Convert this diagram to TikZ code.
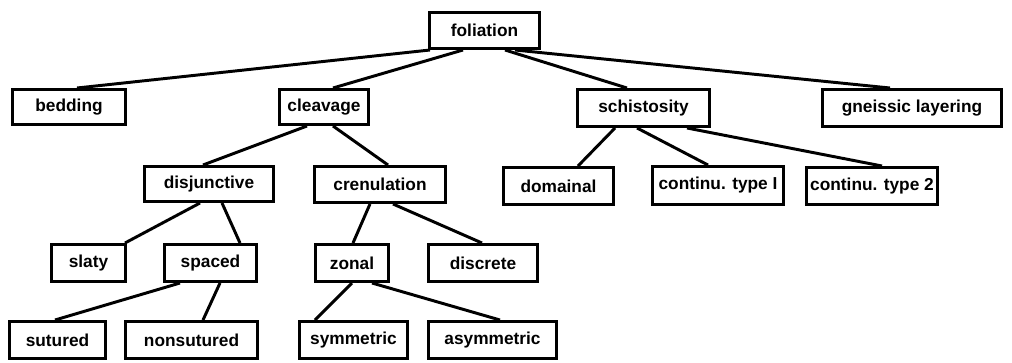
\documentclass[tikz,border=0pt]{standalone}
\usepackage{fontspec}
\setmainfont{Liberation Sans}
\usetikzlibrary{calc}
\tikzset{
  box/.style={draw=black, line width=1.8pt, fill=white, inner sep=0pt,
    font=\bfseries\fontsize{12.3}{14}\selectfont},
  link/.style={draw=black, line width=2.1pt}
}
% \bx{name}{x1}{y1}{x2}{y2}{text}
\newcommand\bx[6]{%
  \node[box, minimum width={(#4-#2)*0.025cm-1.8pt}, minimum height={(#5-#3)*0.025cm-1.8pt}]
    (#1) at ({(#2+#4)/2},{(#3+#5)/2}) {#6};}
% \lk{parent}{x at parent bottom}{child}{x at child top}
\newcommand\lk[4]{\draw[link] (#1.south -| #2,0) -- (#3.north -| #4,0);}
\begin{document}
\begin{tikzpicture}[x=0.025cm, y=-0.025cm]
\path[use as bounding box] (0,0) rectangle (1012,362);
\bx{fol}{428}{11}{541}{50}{foliation}
\bx{bed}{11}{88}{127}{126}{bedding}
\bx{clv}{278}{88}{370}{126}{cleavage}
\bx{sch}{576}{88}{711}{128}{schistosity}
\bx{gne}{821}{88}{1003}{128}{gneissic layering}
\bx{dis}{143}{165}{275}{203}{disjunctive}
\bx{cre}{313}{165}{447}{204}{crenulation}
\bx{dom}{502}{166}{615}{206}{domainal}
\bx{ct1}{651}{165}{785}{206}{continu. type I}
\bx{ct2}{805}{166}{939}{206}{continu. type 2}
\bx{sla}{50}{243}{127}{283}{slaty}
\bx{spa}{163}{243}{258}{283}{spaced}
\bx{zon}{314}{243}{390}{283}{zonal}
\bx{dsc}{427}{243}{539}{283}{discrete}
\bx{sut}{8}{320}{107}{360}{sutured}
\bx{nsu}{124}{320}{259}{360}{nonsutured}
\bx{sym}{298}{320}{409}{360}{symmetric}
\bx{asy}{427}{320}{558}{360}{asymmetric}
\lk{fol}{430}{bed}{77}
\lk{fol}{463}{clv}{333}
\lk{fol}{505}{sch}{627}
\lk{fol}{515}{gne}{890}
\lk{clv}{307}{dis}{203}
\lk{clv}{333}{cre}{388}
\lk{sch}{615}{dom}{578}
\lk{sch}{637}{ct1}{708}
\lk{sch}{687}{ct2}{882}
\lk{dis}{200}{sla}{125}
\lk{dis}{222}{spa}{240}
\lk{cre}{370}{zon}{353}
\lk{cre}{393}{dsc}{482}
\lk{spa}{180}{sut}{55}
\lk{spa}{220}{nsu}{203}
\lk{zon}{352}{sym}{315}
\lk{zon}{372}{asy}{500}
\end{tikzpicture}
\end{document}
